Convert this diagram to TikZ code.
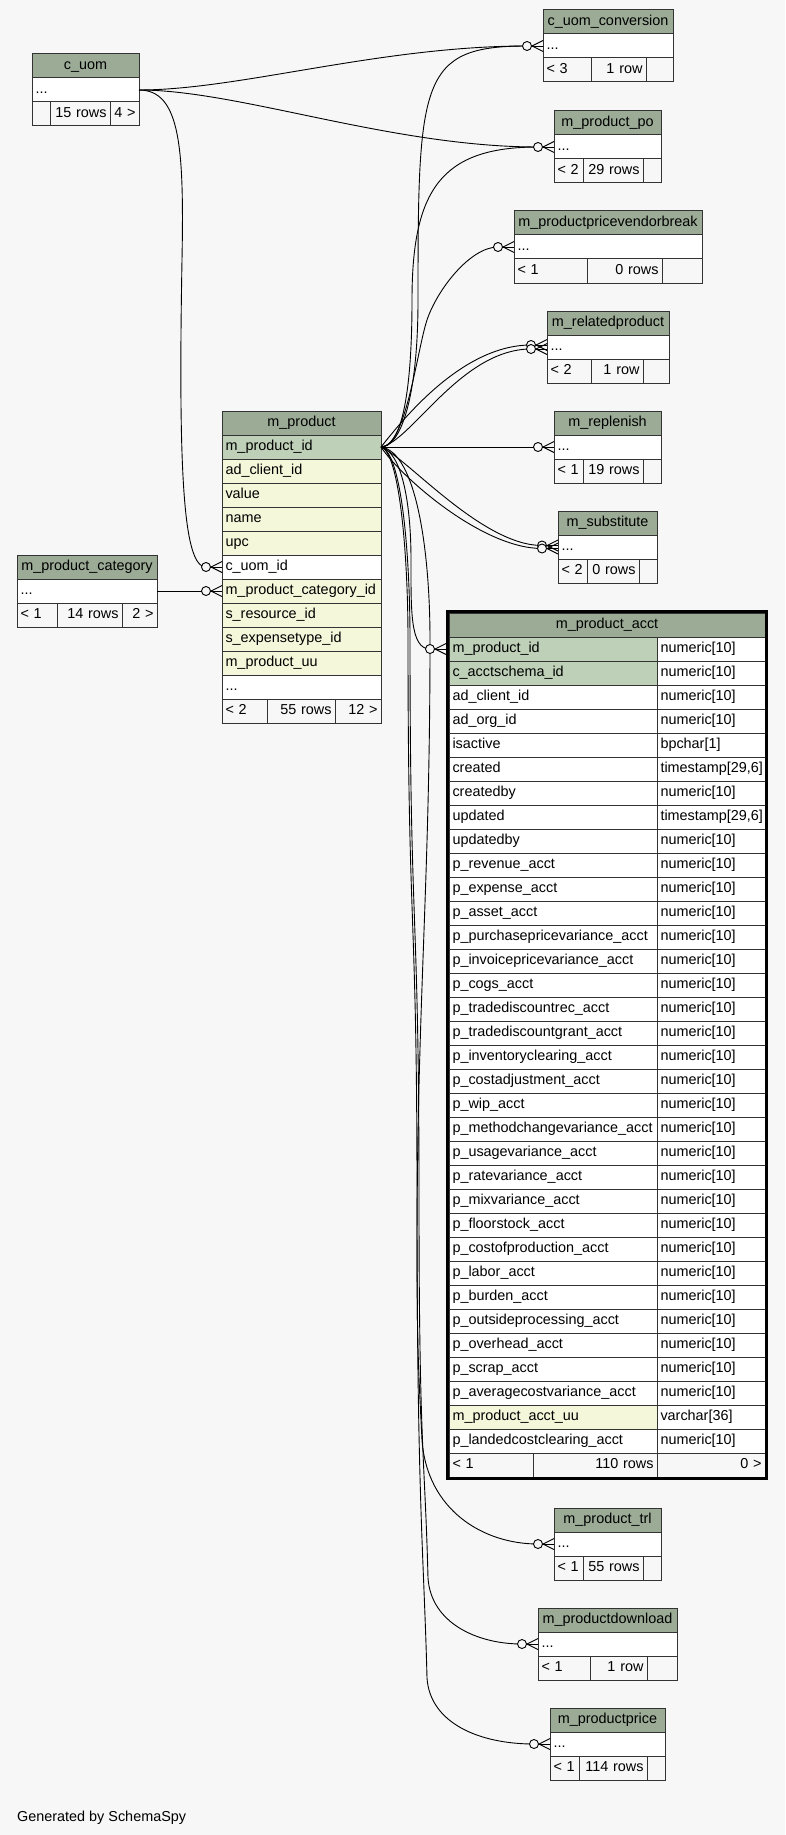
\documentclass[tikz,border=0pt]{standalone}
\usepackage{fontspec}
\setmainfont{Liberation Sans}
\usetikzlibrary{positioning}
\definecolor{erdbg}{HTML}{F7F7F7}
\definecolor{erdhead}{HTML}{9BAB96}
\definecolor{erdpk}{HTML}{BED1B8}
\definecolor{erdidx}{HTML}{F4F7DA}
\definecolor{erdline}{HTML}{333333}
\newcommand{\erdfont}{\fontsize{14.4}{17}\selectfont}
\tikzstyle{cell} = [rectangle, draw=erdline, line width=1pt, outer sep=0pt, inner xsep=3.5pt, inner ysep=0pt, minimum height=24pt, text height=10.5pt, text depth=3pt, anchor=north west, align=left, font=\erdfont]
\tikzstyle{head} = [cell, fill=erdhead, align=center]
\tikzstyle{pkey} = [cell, fill=erdpk]
\tikzstyle{idx} = [cell, fill=erdidx]
\tikzstyle{plain} = [cell, fill=white]
\tikzstyle{foot} = [cell, fill=erdbg]
\tikzstyle{lnk} = [line width=0.9pt, draw=black]
\tikzset{wd/.style={minimum width=#1pt, /utils/exec={\pgfmathsetmacro\cellw{#1-7}}, text width=\cellw pt}}
% table with title and "..." row
\newcommand{\minitable}[5]{%
  \node[head, wd=#5] (#1) at (#3,#4) {#2};
  \node[plain, wd=#5] (#1-dots) at (#1.south west) {...};
}
% footer row of a table
\newcommand{\minifoot}[7]{%
  \node[foot, wd=#2] (#1-f1) at (#1-dots.south west) {#5};
  \node[foot, wd=#3, align=right] (#1-f2) at (#1-f1.north east) {#6};
  \node[foot, wd=#4, align=right] (#1-f3) at (#1-f2.north east) {#7};
}
% end of a connector at a child table
\newcommand{\tipat}[2]{%
  \coordinate (#1-edge) at (#2);
  \coordinate (#1) at ([xshift=-16pt]#1-edge);
}
\newcommand{\zeromany}[1]{%
  \draw[lnk] (#1) -- (#1-edge);
  \draw[lnk] ([xshift=-11pt]#1-edge) -- ([yshift=5.5pt]#1-edge);
  \draw[lnk] ([xshift=-11pt]#1-edge) -- ([yshift=-5.5pt]#1-edge);
  \draw[lnk, fill=erdbg] (#1) circle[radius=4.5pt];
}

\begin{document}
\begin{tikzpicture}[x=1pt, y=-1pt]
    \useasboundingbox (0,0) rectangle (785,1835);
    \fill[erdbg] (0,0) rectangle (785,1835);

    % Small tables
    \minitable{uom}{c\_uom}{32}{54}{107}
    \minifoot{uom}{18}{60}{29}{}{15 rows}{4 >}
    \minitable{conv}{c\_uom\_conversion}{543}{10}{130}
    \minifoot{conv}{48}{55}{27}{< 3}{1 row}{}
    \minitable{po}{m\_product\_po}{554}{111}{107}
    \minifoot{po}{29}{60}{18}{< 2}{29 rows}{}
    \minitable{pvb}{m\_productpricevendorbreak}{514}{211}{188}
    \minifoot{pvb}{73}{75}{40}{< 1}{0 rows}{}
    \minitable{rel}{m\_relatedproduct}{547}{311}{122}
    \minifoot{rel}{44}{52}{26}{< 2}{1 row}{}
    \minitable{rep}{m\_replenish}{554}{411}{107}
    \minifoot{rep}{29}{60}{18}{< 1}{19 rows}{}
    \minitable{sub}{m\_substitute}{558}{511}{99}
    \minifoot{sub}{29}{52}{18}{< 2}{0 rows}{}
    \minitable{cat}{m\_product\_category}{17}{555}{140}
    \minifoot{cat}{40}{65}{35}{< 1}{14 rows}{2 >}
    \minitable{trl}{m\_product\_trl}{554}{1508}{107}
    \minifoot{trl}{29}{60}{18}{< 1}{55 rows}{}
    \minitable{dl}{m\_productdownload}{538}{1608}{139}
    \minifoot{dl}{52}{57}{30}{< 1}{1 row}{}
    \minitable{price}{m\_productprice}{550}{1708}{115}
    \minifoot{price}{29}{68}{18}{< 1}{114 rows}{}

    % m_product
    \node[head, wd=159] (mprod) at (222,411) {m\_product};
    \node[pkey, wd=159] (mprod-id) at (mprod.south west) {m\_product\_id};
    \node[idx, wd=159] (mprod-client) at (mprod-id.south west) {ad\_client\_id};
    \node[idx, wd=159] (mprod-value) at (mprod-client.south west) {value};
    \node[idx, wd=159] (mprod-name) at (mprod-value.south west) {name};
    \node[idx, wd=159] (mprod-upc) at (mprod-name.south west) {upc};
    \node[plain, wd=159] (mprod-uom) at (mprod-upc.south west) {c\_uom\_id};
    \node[idx, wd=159] (mprod-cat) at (mprod-uom.south west) {m\_product\_category\_id};
    \node[idx, wd=159] (mprod-res) at (mprod-cat.south west) {s\_resource\_id};
    \node[idx, wd=159] (mprod-exp) at (mprod-res.south west) {s\_expensetype\_id};
    \node[idx, wd=159] (mprod-uu) at (mprod-exp.south west) {m\_product\_uu};
    \node[plain, wd=159] (mprod-dots) at (mprod-uu.south west) {...};
    \minifoot{mprod}{45}{68}{46}{< 2}{55 rows}{12 >}

    % m_product_acct
    \node[head, wd=316] (acct) at (449,613) {m\_product\_acct};
    \foreach \col/\typ/\fc [count=\i] in {m\_product\_id/numeric[10]/erdpk, c\_acctschema\_id/numeric[10]/erdpk,
        ad\_client\_id/numeric[10]/white, ad\_org\_id/numeric[10]/white, isactive/bpchar[1]/white,
        {created/timestamp[29,6]/white}, createdby/numeric[10]/white, {updated/timestamp[29,6]/white},
        updatedby/numeric[10]/white, p\_revenue\_acct/numeric[10]/white, p\_expense\_acct/numeric[10]/white,
        p\_asset\_acct/numeric[10]/white, p\_purchasepricevariance\_acct/numeric[10]/white,
        p\_invoicepricevariance\_acct/numeric[10]/white, p\_cogs\_acct/numeric[10]/white,
        p\_tradediscountrec\_acct/numeric[10]/white, p\_tradediscountgrant\_acct/numeric[10]/white,
        p\_inventoryclearing\_acct/numeric[10]/white, p\_costadjustment\_acct/numeric[10]/white,
        p\_wip\_acct/numeric[10]/white, p\_methodchangevariance\_acct/numeric[10]/white,
        p\_usagevariance\_acct/numeric[10]/white, p\_ratevariance\_acct/numeric[10]/white,
        p\_mixvariance\_acct/numeric[10]/white, p\_floorstock\_acct/numeric[10]/white,
        p\_costofproduction\_acct/numeric[10]/white, p\_labor\_acct/numeric[10]/white,
        p\_burden\_acct/numeric[10]/white, p\_outsideprocessing\_acct/numeric[10]/white,
        p\_overhead\_acct/numeric[10]/white, p\_scrap\_acct/numeric[10]/white,
        p\_averagecostvariance\_acct/numeric[10]/white, m\_product\_acct\_uu/varchar[36]/erdidx,
        p\_landedcostclearing\_acct/numeric[10]/white} {
        \node[cell, fill=\fc, wd=208] (acct-c\i) at (449,{613+24*\i}) {\col};
        \node[plain, wd=108] (acct-t\i) at (acct-c\i.north east) {\typ};
    }
    \node[foot, wd=84] (acct-f1) at (acct-c34.south west) {< 1};
    \node[foot, wd=124, align=right] (acct-f2) at (acct-f1.north east) {110 rows};
    \node[foot, wd=108, align=right] (acct-f3) at (acct-f2.north east) {0 >};
    \draw[line width=3pt] ([shift={(-1.5pt,1.5pt)}]acct.north west) rectangle ([shift={(1.5pt,-1.5pt)}]acct-f3.south east);

    \node[anchor=base west, font=\erdfont, inner sep=0pt] (gen) at (17,1821) {Generated by SchemaSpy};

    % Connector ends
    \tipat{convE}{conv-dots.west}
    \tipat{poE}{po-dots.west}
    \tipat{pvbE}{pvb-dots.west}
    \tipat{relA}{[yshift=2pt]rel-dots.west}
    \tipat{relB}{[yshift=-2pt]rel-dots.west}
    \tipat{repE}{rep-dots.west}
    \tipat{subA}{[yshift=1.5pt]sub-dots.west}
    \tipat{subB}{[yshift=-1.5pt]sub-dots.west}
    \tipat{acctE}{[xshift=-3pt]acct-c1.west}
    \tipat{trlE}{trl-dots.west}
    \tipat{dlE}{dl-dots.west}
    \tipat{priceE}{price-dots.west}
    \tipat{uomE}{mprod-uom.west}
    \tipat{catE}{mprod-cat.west}

    % Connectors
    \draw[lnk] (uom-dots.east) .. controls +(100,0) and +(-147,0) .. (convE);
    \draw[lnk] (uom-dots.east) .. controls +(100,0) and +(-147,0) .. (poE);
    \draw[lnk] (uom-dots.east) .. controls +(42,0) and +(2,-110) .. (182,260) .. controls +(-4,220) and +(-22,0) .. (uomE);
    \draw[lnk] (cat-dots.east) -- (catE);
    \draw[lnk] (mprod-id.east) .. controls +(19,0) and +(0,100) .. (418,300) .. controls +(0,-220) and +(-107,0) .. (convE);
    \draw[lnk] (mprod-id.east) .. controls +(19,0) and +(0,100) .. (412,300) .. controls +(0,-110) and +(-97,0) .. (poE);
    \draw[lnk] (mprod-id.east) .. controls +(25,0) and +(-10,30) .. (427,320) .. controls +(10,-30) and +(-28,0) .. (pvbE);
    \draw[lnk] (mprod-id.east) .. controls +(20,-25) and +(-70,0) .. (relA);
    \draw[lnk] (mprod-id.east) .. controls +(30,-5) and +(-70,0) .. (relB);
    \draw[lnk] (mprod-id.east) -- (repE);
    \draw[lnk] (mprod-id.east) .. controls +(25,10) and +(-60,0) .. (subA);
    \draw[lnk] (mprod-id.east) .. controls +(20,30) and +(-60,0) .. (subB);
    \draw[lnk] (mprod-id.east) .. controls +(20,5) and +(0,-60) .. (411,560) .. controls +(0,50) and +(-20,0) .. (acctE);
    \draw[lnk] (mprod-id.east) .. controls +(35,5) and +(0,-90) .. (430,640) .. controls +(0,250) and +(0,-250) .. (417,1250) .. controls +(0,100) and +(-3,-60) .. (422,1440) .. controls +(5,70) and +(-55,0) .. (trlE);
    \draw[lnk] (mprod-id.east) .. controls +(20,5) and +(0,-90) .. (410,640) .. controls +(0,300) and +(0,-300) .. (419,1200) .. controls +(0,250) and +(-3,-120) .. (428,1578) .. controls +(3,45) and +(-45,0) .. (dlE);
    \draw[lnk] (mprod-id.east) .. controls +(18,5) and +(0,-90) .. (408,640) .. controls +(0,300) and +(0,-300) .. (417,1200) .. controls +(0,300) and +(-3,-120) .. (427,1678) .. controls +(3,45) and +(-55,0) .. (priceE);

    % Zero-or-many ends
    \foreach \e in {convE, poE, pvbE, relA, relB, repE, subA, subB, acctE, trlE, dlE, priceE, uomE, catE}
        \zeromany{\e};
\end{tikzpicture}
\end{document}
